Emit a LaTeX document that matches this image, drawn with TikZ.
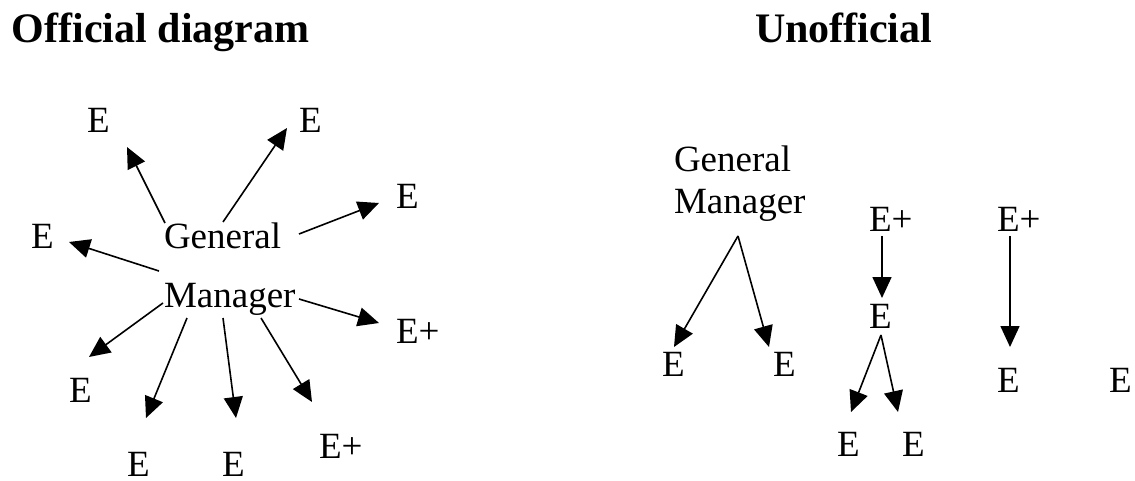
\documentclass[tikz,border=0pt]{standalone}
\usepackage{fontspec}
\setmainfont{Liberation Serif}
\usetikzlibrary{arrows.meta}
\begin{document}
\begin{tikzpicture}[x=1pt,y=-1pt,
  lbl/.style={anchor=base west,inner sep=0pt,outer sep=0pt,font=\fontsize{37}{40}\selectfont},
  ttl/.style={anchor=base west,inner sep=0pt,outer sep=0pt,font=\fontsize{42}{46}\selectfont\bfseries},
  arr/.style={line width=1.6pt,-{Triangle[length=21pt,width=19pt]}}]
\useasboundingbox (0,0) rectangle (1135,481);
% titles
\node[ttl] (t1) at (12,43) {Official diagram};
\node[ttl] (t2) at (755,43) {Unofficial};
% left diagram
\node[lbl] (g1) at (164,248) {General};
\node[lbl] (m1) at (164,307) {Manager};
\node[lbl] (a1) at (87,133) {E};
\node[lbl] (a2) at (299,133) {E};
\node[lbl] (a3) at (396,209) {E};
\node[lbl] (a4) at (31,248) {E};
\node[lbl] (a5) at (396,343) {E+};
\node[lbl] (a6) at (69,402) {E};
\node[lbl] (a7) at (127,476) {E};
\node[lbl] (a8) at (222,476) {E};
\node[lbl] (a9) at (319,458) {E+};
\coordinate (s1) at (165,223); \coordinate (p1) at (127,147);
\coordinate (s2) at (223,222); \coordinate (p2) at (287,128);
\coordinate (s3) at (299,234); \coordinate (p3) at (379,203);
\coordinate (s4) at (159,271); \coordinate (p4) at (69,242);
\coordinate (s5) at (299,299); \coordinate (p5) at (379,323);
\coordinate (s6) at (163,303); \coordinate (p6) at (89,357);
\coordinate (s7) at (187,318); \coordinate (p7) at (146,418);
\coordinate (s8) at (223,318); \coordinate (p8) at (236,418);
\coordinate (s9) at (261,318); \coordinate (p9) at (312,402);
\foreach \i in {1,...,9} \draw[arr] (s\i) -- (p\i);
% right diagram
\node[lbl] (g2) at (674,172) {General};
\node[lbl] (m2) at (674,214) {Manager};
\node[lbl] (b1) at (662,376) {E};
\node[lbl] (b2) at (773,376) {E};
\node[lbl] (c0) at (869,232) {E+};
\node[lbl] (c1) at (869,328) {E};
\node[lbl] (c2) at (837,456) {E};
\node[lbl] (c3) at (902,456) {E};
\node[lbl] (d0) at (997,232) {E+};
\node[lbl] (d1) at (997,392) {E};
\node[lbl] (d2) at (1109,392) {E};
\coordinate (gmr) at (738,236);
\coordinate (q1) at (674,347); \coordinate (q2) at (769,347);
\coordinate (r0) at (882,236); \coordinate (r1) at (882,298);
\coordinate (r2) at (881,335); \coordinate (r3) at (851,412); \coordinate (r4) at (898,412);
\coordinate (u0) at (1010,236); \coordinate (u1) at (1010,347);
\draw[arr] (gmr) -- (q1);
\draw[arr] (gmr) -- (q2);
\draw[arr] (r0) -- (r1);
\draw[arr] (r2) -- (r3);
\draw[arr] (r2) -- (r4);
\draw[arr] (u0) -- (u1);
\end{tikzpicture}
\end{document}
